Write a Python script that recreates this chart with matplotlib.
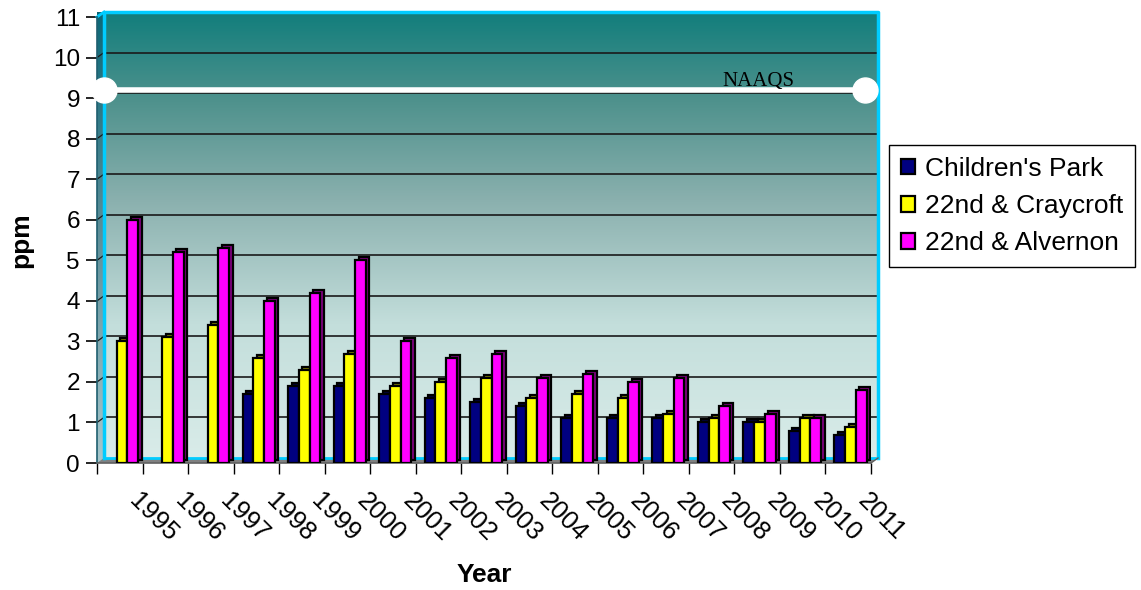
import numpy as np
import matplotlib
matplotlib.use("Agg")
import matplotlib.pyplot as plt
import matplotlib.transforms as mtransforms
from matplotlib.colors import LinearSegmentedColormap
from matplotlib.patches import Polygon

plt.rcParams['font.family'] = ['Liberation Sans', 'DejaVu Sans']

years = ["1995", "1996", "1997", "1998", "1999", "2000", "2001", "2002", "2003",
         "2004", "2005", "2006", "2007", "2008", "2009", "2010", "2011"]
childrens_park = [np.nan, np.nan, np.nan, 1.7, 1.9, 1.9, 1.7, 1.6, 1.5,
                  1.4, 1.1, 1.1, 1.1, 1.0, 1.0, 0.8, 0.7]
craycroft = [3.0, 3.1, 3.4, 2.6, 2.3, 2.7, 1.9, 2.0, 2.1,
             1.6, 1.7, 1.6, 1.2, 1.1, 1.0, 1.1, 0.9]
alvernon = [6.0, 5.2, 5.3, 4.0, 4.2, 5.0, 3.0, 2.6, 2.7,
            2.1, 2.2, 2.0, 2.1, 1.4, 1.2, 1.1, 1.8]
series_names = ["Children's Park", "22nd & Craycroft", "22nd & Alvernon"]
naaqs = 9.2

colors = ["#000080", "#ffff00", "#ff00ff"]
side_colors = ["#000040", "#7f7f00", "#800080"]
cyan = "#00ccff"

W, H = 1141, 590
fig = plt.figure(figsize=(W / 100, H / 100), dpi=100)
# front axis box in pixels: x 97..871, y 463 (0) .. 17 (11)
ax = fig.add_axes([97 / W, 1 - 463 / H, 774 / W, 446 / H])

n = len(years)
x = np.arange(n)
x0, x1 = -0.5, n - 0.5
ytop = 11

# depth of the fake 3D walls, 7 px right and 5 px up, in data units
dx = 7 / 774 * n
dy = 5 / 446 * ytop

# back wall with a vertical gradient
wall = LinearSegmentedColormap.from_list("wall", [
    (0.0, "#d9ece9"), (0.3, "#c3dedb"), (0.58, "#8ab0ae"),
    (0.8, "#4f928d"), (1.0, "#127e7c")])
side_wall = LinearSegmentedColormap.from_list("side", [
    (0.0, "#a7c7cc"), (0.5, "#5f8f99"), (1.0, "#0c6878")])
grad = np.linspace(0, 1, 256).reshape(-1, 1)
ax.imshow(grad, extent=[x0 + dx, x1 + dx, dy, ytop + dy], origin="lower",
          aspect="auto", cmap=wall, zorder=0, clip_on=False)
side_im = ax.imshow(grad, extent=[x0, x0 + dx, 0, ytop + dy], origin="lower",
                    aspect="auto", cmap=side_wall, zorder=0, clip_on=False)
side_poly = Polygon([(x0, 0), (x0, ytop), (x0 + dx, ytop + dy), (x0 + dx, dy)],
                    closed=True, transform=ax.transData)
side_im.set_clip_path(side_poly)
ax.set_xlim(x0, x1)
ax.set_ylim(0, ytop)

# floor
ax.add_patch(Polygon([(x0, 0), (x1, 0), (x1 + dx, dy), (x0 + dx, dy)],
                     closed=True, facecolor="#808080", edgecolor="none",
                     zorder=1, clip_on=False))

# gridlines on the back wall, with the short diagonal on the side wall
for v in range(1, ytop):
    ax.plot([x0 + dx, x1 + dx], [v + dy, v + dy], color="#1a1a1a", lw=1.2,
            zorder=1, clip_on=False)
    ax.plot([x0, x0 + dx], [v, v + dy], color="#1a1a1a", lw=0.9,
            zorder=1, clip_on=False)

# cyan frame of the back wall
ax.plot([x0 + dx, x0 + dx, x1 + dx, x1 + dx],
        [dy, ytop + dy, ytop + dy, dy], color=cyan, lw=2.5, zorder=2,
        clip_on=False)
ax.plot([x0 + dx, x1 + dx], [dy, dy], color=cyan, lw=2, zorder=2,
        clip_on=False)
ax.plot([x0, x0 + dx], [ytop, ytop + dy], color=cyan, lw=2, zorder=2,
        clip_on=False)
ax.plot([x1, x1 + dx], [0, dy], color="#606060", lw=1, zorder=2,
        clip_on=False)

# bars with a fake 3D side
w = 0.235
shift = 0.05
side = mtransforms.ScaledTranslation(3.5 / 100, 3 / 100, fig.dpi_scale_trans)
for i, vals in enumerate([childrens_park, craycroft, alvernon]):
    pos = x + shift + (i - 1) * w
    ax.bar(pos, vals, w, color=side_colors[i], edgecolor="black", lw=1.6,
           zorder=3 + i * 2, transform=ax.transData + side)
    ax.bar(pos, vals, w, color=colors[i], edgecolor="black", lw=1.6,
           zorder=4 + i * 2, label=series_names[i])

# NAAQS line
ytrans = ax.get_yaxis_transform()
ax.plot([0.009, 0.992], [naaqs, naaqs], color="white", lw=4,
        marker="o", markersize=18, markerfacecolor="white",
        markeredgecolor="white", transform=ytrans, zorder=10, clip_on=False)
ax.text(0.855, naaqs + 0.1, "NAAQS", transform=ytrans, fontsize=15,
        family="Liberation Serif", ha="center", va="baseline", zorder=11)

# spines
for s in ["right", "top"]:
    ax.spines[s].set_visible(False)
ax.spines["left"].set_color("#1f5f6f")
ax.spines["left"].set_linewidth(1.2)
ax.spines["bottom"].set_color("#606060")
ax.spines["bottom"].set_linewidth(1.2)

ax.set_yticks(range(0, ytop + 1))
ax.set_yticklabels([str(v) for v in range(0, ytop + 1)])
ax.tick_params(axis="y", labelsize=17.5, length=8, width=1.2, color="black",
               direction="out", pad=4.3)

ax.set_xticks(x)
ax.set_xticklabels(years, rotation=-45, ha="left", va="top",
                   rotation_mode="anchor", fontsize=18.5)
ax.tick_params(axis="x", length=0, pad=0)
ax.set_xticks(np.arange(n + 1) - 0.5, minor=True)
ax.tick_params(axis="x", which="minor", length=8, width=1, color="black")
nudge = mtransforms.ScaledTranslation(22 / 100, -25.5 / 100,
                                      fig.dpi_scale_trans)
for lab in ax.get_xticklabels():
    lab.set_transform(lab.get_transform() + nudge)

fig.text(21 / W, 1 - 240 / H, "ppm", rotation=90, fontsize=19,
         fontweight="bold", ha="center", va="center")
fig.text(484 / W, 1 - 575 / H, "Year", fontsize=19,
         fontweight="bold", ha="center", va="center")

leg = ax.legend(loc="upper left", bbox_to_anchor=(889 / W, 1 - 145 / H),
                bbox_transform=fig.transFigure, fontsize=19, frameon=True,
                fancybox=False, framealpha=1, edgecolor="black",
                handlelength=0.55, handleheight=0.55, handletextpad=0.35,
                labelspacing=0.5, borderpad=0.45, borderaxespad=0)
leg.get_frame().set_linewidth(1)

fig.savefig("out.png", dpi=100)
